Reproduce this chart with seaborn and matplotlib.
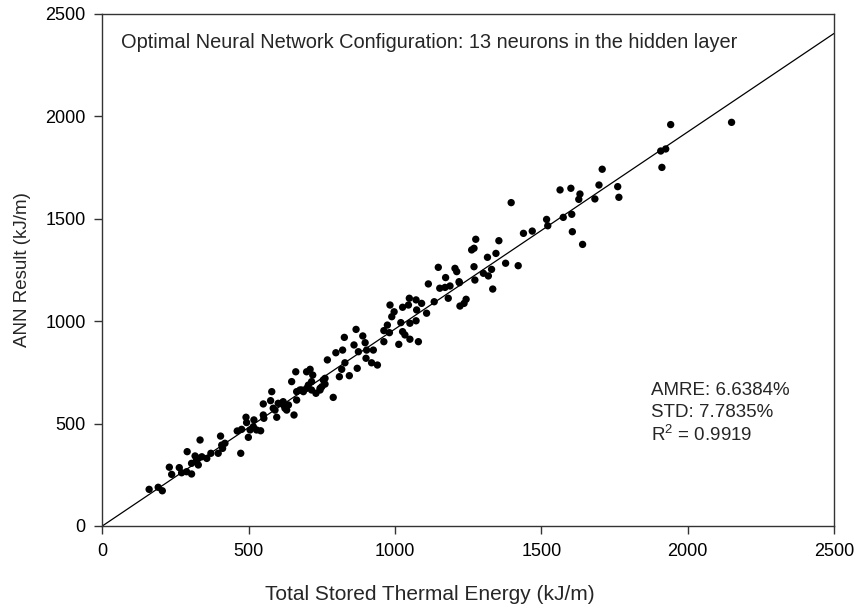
import matplotlib
matplotlib.use("Agg")
import matplotlib.pyplot as plt
import seaborn as sns
import numpy as np
import pandas as pd

# Scatter data (kJ/m)
total_energy = [
    160, 191, 205, 229, 237, 263, 271, 288, 305, 290, 317, 305, 328, 334, 340,
    357, 371, 396, 404, 408, 419, 473, 461, 476, 491, 493, 499, 505, 518, 541,
    550, 552, 579, 575, 590, 596, 601, 618, 630, 636, 655, 647, 661, 664, 664,
    681, 698, 710, 719, 704, 715, 730, 744, 755, 761, 769, 789, 798, 810,
    821, 827, 818, 844, 829, 867, 860, 875, 871, 890, 898, 903, 926, 901, 920,
    940, 962, 962, 974, 981, 983, 989, 997, 1013, 1020, 1026, 1034, 1026, 1046,
    1049, 1051, 1051, 1072, 1074, 1072, 1080, 1091, 1108, 1114, 1134, 1148,
    1153, 1173, 1171, 1188, 1182, 1205, 1211, 1220, 1222, 1236, 1243, 1270,
    1273, 1262, 1270, 1276, 1302, 1316, 1319, 1330, 1334, 1345, 1355, 1378,
    1397, 1421, 1439, 1469, 1518, 1522, 1564,
    1575, 1601, 1604, 1606, 1632, 1628, 1641, 1683, 1697, 1708, 1761, 1765,
    1908, 1925, 1912, 1942, 2150,
    584, 613, 619, 624, 675, 687, 698, 715, 750, 761, 744,
    328, 322, 411, 516, 527, 550, 1219,
]
ann_result = [
    179, 189, 172, 287, 252, 285, 260, 265, 254, 363, 342, 306, 298, 420, 338,
    330, 355, 355, 439, 395, 404, 355, 464, 472, 531, 505, 433, 469, 518, 465,
    596, 526, 656, 612, 566, 531, 599, 607, 566, 591, 542, 705, 753, 656, 615,
    664, 753, 765, 737, 688, 664, 648, 672, 713, 693, 811, 628, 846, 729,
    859, 921, 765, 734, 797, 960, 884, 851, 770, 928, 895, 859, 859, 819, 797,
    786, 900, 954, 981, 944, 1079, 1022, 1046, 887, 993, 949, 933, 1068, 1079,
    1112, 990, 912, 1104, 1055, 1002, 900, 1087, 1039, 1182, 1095, 1263,
    1161, 1213, 1165, 1172, 1112, 1258, 1242, 1188, 1074, 1087, 1107, 1266,
    1201, 1348, 1356, 1400, 1234, 1312, 1221, 1253, 1157, 1331, 1393, 1283,
    1579, 1271, 1429, 1440, 1497, 1466, 1641,
    1507, 1649, 1522, 1437, 1621, 1595, 1375, 1597, 1665, 1742, 1657, 1605,
    1831, 1841, 1751, 1960, 1971,
    575, 600, 591, 575, 664, 656, 672, 705, 680, 721, 664,
    330, 322, 379, 485, 469, 542, 1193,
]

fit_slope = 0.962          # fitted line through the origin
line_x = [0, 2500]
axis_ticks = [0, 500, 1000, 1500, 2000, 2500]

title_text = "Optimal Neural Network Configuration: 13 neurons in the hidden layer"
stats_lines = ["AMRE: 6.6384%", "STD: 7.7835%", r"R$^2$ = 0.9919"]

sns.set_theme(style="ticks")
plt.rcParams["font.family"] = ["Liberation Sans", "DejaVu Sans"]
plt.rcParams["mathtext.fontset"] = "custom"
plt.rcParams["mathtext.rm"] = "Liberation Sans"

fig = plt.figure(figsize=(8.58, 6.13), dpi=100)
ax = fig.add_axes([102.3 / 858, 1 - 526 / 613, (834 - 102.3) / 858, (526 - 14) / 613])

df = pd.DataFrame({"x": total_energy, "y": ann_result})
line_df = pd.DataFrame({"x": line_x, "y": [fit_slope * v for v in line_x]})

sns.lineplot(data=line_df, x="x", y="y", ax=ax, color="black", linewidth=0.9)
sns.scatterplot(data=df, x="x", y="y", ax=ax, color="black", s=28,
                edgecolor="none", linewidth=0, zorder=3)

ax.set_xlim(0, 2500)
ax.set_ylim(0, 2500)
ax.set_xticks(axis_ticks)
ax.set_yticks(axis_ticks)
ax.tick_params(axis="both", direction="out", length=6, width=1, labelsize=13,
               color="#333333", labelcolor="black", pad=6)
for sp in ax.spines.values():
    sp.set_color("#333333")
    sp.set_linewidth(1.0)

ax.set_xlabel("")
ax.set_ylabel("ANN Result (kJ/m)", fontsize=13.5, labelpad=10)
fig.text(430 / 858, 1 - 594 / 613, "Total Stored Thermal Energy (kJ/m)",
         fontsize=15, ha="center", va="center")

ax.text(0.026, 0.945, title_text, transform=ax.transAxes, fontsize=14.4,
        ha="left", va="center")
for i, s in enumerate(stats_lines):
    ax.text(0.75, 0.265 - i * 0.043, s, transform=ax.transAxes, fontsize=13.5,
            ha="left", va="center")

fig.savefig("out.png", dpi=100)
